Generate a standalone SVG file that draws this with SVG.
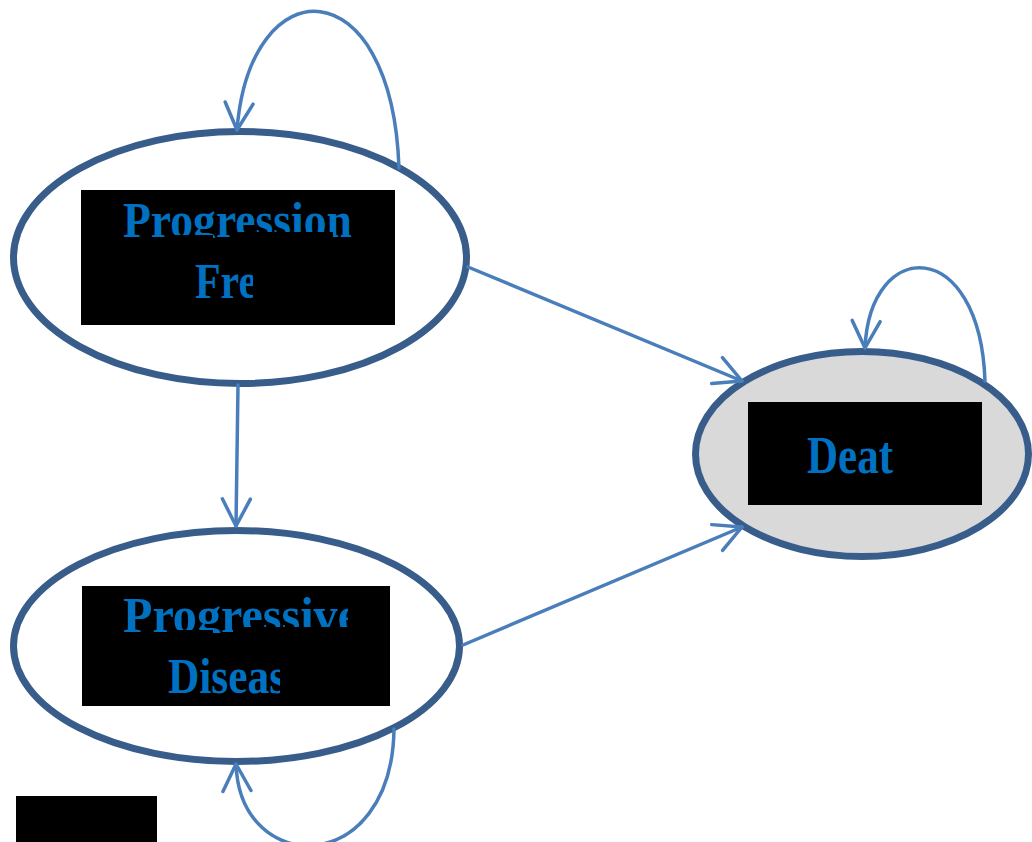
<svg xmlns="http://www.w3.org/2000/svg" width="1032" height="842" viewBox="0 0 1032 842">
<style>
.node{stroke:#385d8a;stroke-width:7}
.label{fill:#0070c0;font-family:"Liberation Serif","Times New Roman",serif;font-weight:bold}
.conn{fill:none;stroke:#4a7ebb;stroke-width:3.5;stroke-linecap:round}
</style>
<defs>
<marker id="open" markerUnits="userSpaceOnUse" markerWidth="40" markerHeight="40" viewBox="-32 -20 40 40" refX="0" refY="0" orient="auto" overflow="visible">
<path d="M-27,-14 L0,0 L-27,14" fill="none" stroke="#4a7ebb" stroke-width="3.5" stroke-linecap="round" stroke-linejoin="round"/>
</marker>
<clipPath id="c1"><path d="M81,190 H395 V238 H333 V232 H233 V238 H213 V235 H168 V238 H81 Z"/></clipPath>
<clipPath id="c2"><rect x="81" y="240" width="172" height="80"/></clipPath>
<clipPath id="c3"><path d="M82,586 H348 V627 H233 V633 H213 V630 H168 V633 H82 Z"/></clipPath>
<clipPath id="c4"><rect x="82" y="640" width="198" height="60"/></clipPath>
</defs>
<rect width="1032" height="842" fill="#ffffff"/>
<g id="node-progression-free">
<ellipse class="node" cx="240" cy="257.5" rx="226.5" ry="126" fill="#ffffff"/>
<rect x="81" y="190" width="314" height="135" fill="#000000"/>
<text class="label" x="123" y="237" font-size="50" textLength="229" lengthAdjust="spacingAndGlyphs" clip-path="url(#c1)">Progression</text>
<text class="label" x="195" y="298" font-size="50" textLength="62" lengthAdjust="spacingAndGlyphs" clip-path="url(#c2)">Fre</text>
</g>
<g id="node-progressive-disease">
<ellipse class="node" cx="236.5" cy="646" rx="223" ry="115.5" fill="#ffffff"/>
<rect x="82" y="586" width="308" height="120" fill="#000000"/>
<text class="label" x="123" y="632" font-size="50" textLength="236" lengthAdjust="spacingAndGlyphs" clip-path="url(#c3)">Progressive</text>
<text class="label" x="168" y="693" font-size="50" textLength="118" lengthAdjust="spacingAndGlyphs" clip-path="url(#c4)">Diseas</text>
</g>
<g id="node-death">
<ellipse class="node" cx="862" cy="454" rx="166.5" ry="102.5" fill="#d9d9d9"/>
<rect x="748" y="402" width="234" height="103" fill="#000000"/>
<text class="label" x="807" y="473" font-size="52" textLength="86" lengthAdjust="spacingAndGlyphs">Deat</text>
</g>
<g id="connectors">
<path class="conn" d="M238,385 L236,526" marker-end="url(#open)"/>
<path class="conn" d="M468,267 L742,381" marker-end="url(#open)"/>
<path class="conn" d="M463,645 L742,527" marker-end="url(#open)"/>
<path class="conn" d="M399,168 C392,-34 250,-34 237,130" marker-end="url(#open)"/>
<path class="conn" d="M985,381 C980,236 870,236 865,348" marker-end="url(#open)"/>
<path class="conn" d="M394,729 C392,878 240,878 236,764" marker-end="url(#open)"/>
</g>
<rect id="corner-box" x="16" y="796" width="141" height="46" fill="#000000"/>
</svg>
